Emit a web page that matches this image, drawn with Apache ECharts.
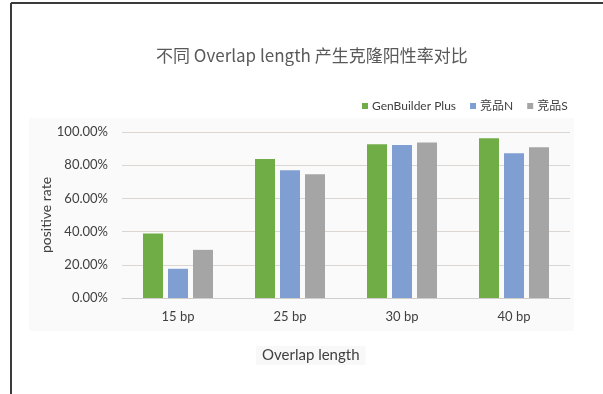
<!DOCTYPE html>
<html>
<head>
<meta charset="utf-8">
<script src="https://cdn.jsdelivr.net/npm/echarts@6/dist/echarts.min.js"></script>
<style>
html,body{margin:0;padding:0;background:#fff;}
#c{width:603px;height:394px;}
</style>
</head>
<body>
<div id="c"></div>
<script>
const categories = ['15 bp', '25 bp', '30 bp', '40 bp'];
const seriesNames = ['GenBuilder Plus', '竞品N', '竞品S'];
const genBuilder = [38.8, 83.7, 92.6, 96.2];
const competitorN = [17.6, 77.0, 92.2, 87.2];
const competitorS = [29.0, 74.5, 93.6, 90.8];
const yTicks = [0, 20, 40, 60, 80, 100];

const colors = ['#70ad47', '#7f9fd3', '#a5a5a5'];
const latin = 'Lato, "Noto Sans CJK SC", sans-serif';

const chart = echarts.init(document.getElementById('c'), null, {renderer: 'canvas'});
const values = [genBuilder, competitorN, competitorS];

chart.setOption({
  animation: false,
  backgroundColor: '#ffffff',
  graphic: [
    {type: 'rect', shape: {x: 29, y: 118, width: 545, height: 213}, style: {fill: '#fafafa'}, z: -10, silent: true},
    {type: 'line', shape: {x1: 11, y1: 3, x2: 603, y2: 3}, style: {stroke: '#3a3a3a', lineWidth: 2}},
    {type: 'line', shape: {x1: 11, y1: 3, x2: 11, y2: 394}, style: {stroke: '#3a3a3a', lineWidth: 2}}
  ],
  title: [
    {
      text: '不同 Overlap length 产生克隆阳性率对比',
      left: 151, top: 42,
      textStyle: {fontFamily: '"Noto Sans CJK SC", sans-serif', fontSize: 17, fontWeight: 'normal', color: '#595959'}
    },
    {
      text: 'Overlap length',
      left: 256, top: 346,
      padding: [2, 6],
      backgroundColor: '#f8f8f8',
      textStyle: {fontFamily: latin, fontSize: 15, fontWeight: 'normal', color: '#404040'}
    }
  ],
  legend: {
    left: 357, top: 95,
    itemWidth: 6, itemHeight: 6, itemGap: 14,
    icon: 'rect',
    textStyle: {fontFamily: latin, fontSize: 12, color: '#404040', padding: [0, 0, 0, -1]},
    data: seriesNames
  },
  grid: {left: 122, right: 33, top: 132, bottom: 96},
  xAxis: {
    type: 'category',
    data: categories,
    axisTick: {show: false},
    axisLine: {lineStyle: {color: '#d0cdcb', width: 1}},
    axisLabel: {margin: 12, fontFamily: latin, fontSize: 13, color: '#404040'}
  },
  yAxis: {
    type: 'value',
    min: yTicks[0], max: yTicks[yTicks.length - 1], interval: yTicks[1] - yTicks[0],
    name: 'positive rate',
    nameLocation: 'middle',
    nameGap: 69,
    nameMoveOverlap: false,
    nameTextStyle: {fontFamily: latin, fontSize: 14, color: '#404040'},
    axisLine: {show: false},
    axisTick: {show: false},
    splitLine: {lineStyle: {color: '#dcd6d3', width: 1}},
    axisLabel: {margin: 14, fontFamily: latin, fontSize: 13, color: '#404040',
      formatter: v => v.toFixed(2) + '%'}
  },
  series: seriesNames.map((n, i) => ({
    name: n,
    type: 'bar',
    data: values[i],
    barWidth: 20,
    barGap: '25%',
    itemStyle: {color: colors[i]}
  }))
});
</script>
</body>
</html>
